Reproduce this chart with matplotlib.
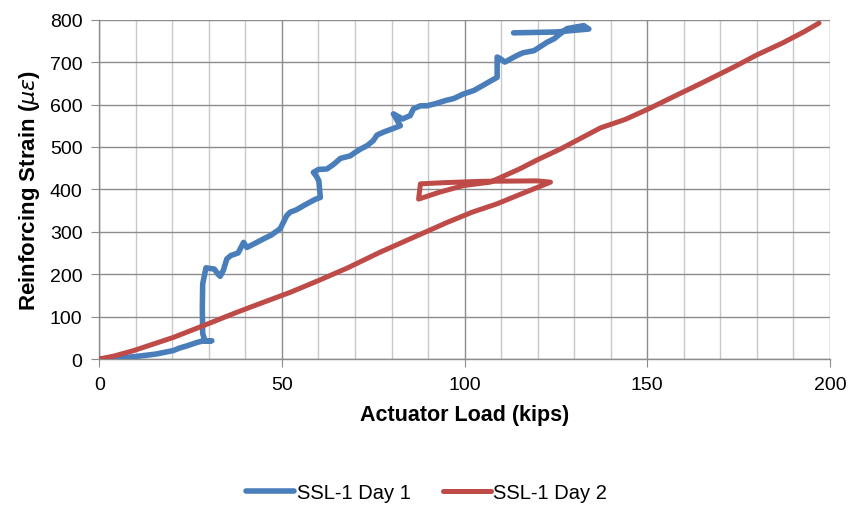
import numpy as np
import matplotlib.pyplot as plt
from matplotlib.ticker import MultipleLocator

plt.rcParams['font.family'] = ['Liberation Sans', 'DejaVu Sans']

# SSL-1 Day 1 (load in kips, strain in microstrain)
day1_load = [0, 3, 6.6, 10, 13, 15.7, 18, 20.3, 22, 24, 26.7, 28.5, 30.8, 29, 28.3,
             28.2, 28.3, 29.2, 31.5, 32.5, 33.1, 34, 34.9, 36, 38, 39.5, 40.4, 42,
             44.9, 47, 49.5, 51.3, 52.2, 54, 56, 57.7, 59, 60.5, 60.3, 60.1, 59.5,
             58.6, 60, 62.3, 64, 66, 68.7, 70, 71.5, 73.3, 75, 76, 77.8, 80, 82.4,
             80.5, 83, 85.1, 86, 87.9, 89.7, 92, 95, 97, 99.7, 102.5, 105, 107,
             108.9, 108.9, 109.8, 111, 114.4, 116, 119, 122.6, 124.5, 126.2, 128,
             130, 132.6, 134, 125, 113.4]
day1_strain = [0, 1, 3, 6, 9, 12, 16, 20, 26, 31, 39, 43, 43, 42, 60,
               120, 177, 215, 212, 200, 195, 210, 236, 244, 250, 275, 263, 270,
               283, 292, 307, 338, 346, 352, 362, 370, 376, 381, 400, 420, 430,
               440, 447, 448, 458, 473, 479, 487, 495, 503, 515, 528, 535, 542, 550,
               578, 566, 574, 590, 597, 597, 602, 610, 614, 625, 633, 645, 655,
               664, 712, 708, 700, 716, 722, 727, 747, 755, 767, 779,
               782, 786, 778, 771, 769]

# SSL-1 Day 2
day2_load = [0, 4, 9.3, 14, 20.3, 28, 37.6, 45, 52.2, 60, 68, 76.9, 85, 95.2,
             102, 108.9, 116, 123.5, 119.8, 105, 95, 87.9, 87.4, 93, 99.7, 107,
             115, 120, 126.2, 137.2, 144, 150.4, 158, 164.5, 173.6, 180, 187, 193,
             197]
day2_strain = [0, 7, 19.6, 33, 51, 77, 110, 134, 157, 185, 215, 252, 283, 322,
               346, 366, 391, 417, 420, 419, 416, 413, 377, 393, 409, 417,
               448, 470, 495, 545, 565, 590, 622, 649, 688, 717, 745, 772,
               792]

blue = '#4a7ebb'
red = '#be4b48'

fig = plt.figure(figsize=(8.53, 5.06), dpi=100)
ax = fig.add_axes([0.1164, 0.2885, 0.8566, 0.6706])

ax.plot(day1_load, day1_strain, color=blue, lw=4.0, solid_joinstyle='round',
        solid_capstyle='round', label='SSL-1 Day 1', zorder=3)
ax.plot(day2_load, day2_strain, color=red, lw=3.6, solid_joinstyle='round',
        solid_capstyle='round', label='SSL-1 Day 2', zorder=3)

ax.set_xlim(0, 200)
ax.set_ylim(0, 800)
ax.xaxis.set_major_locator(MultipleLocator(50))
ax.xaxis.set_minor_locator(MultipleLocator(10))
ax.yaxis.set_major_locator(MultipleLocator(100))

ax.grid(which='major', color='#8c8c8c', lw=1.0, zorder=0)
ax.grid(which='minor', axis='x', color='#c8c8c8', lw=1.0, zorder=0)
ax.set_axisbelow(True)

for s in ['top', 'right']:
    ax.spines[s].set_visible(False)
for s in ['left', 'bottom']:
    ax.spines[s].set_color('#8c8c8c')
    ax.spines[s].set_linewidth(1.0)

ax.tick_params(which='major', direction='out', length=6, color='#8c8c8c',
               labelsize=14, pad=6)
ax.tick_params(which='minor', length=0)

ax.set_xlabel('Actuator Load (kips)', fontsize=15.5, fontweight='bold', labelpad=8)
ax.set_ylabel(r'Reinforcing Strain ($\mu\varepsilon$)', fontsize=16,
              fontweight='bold', labelpad=6)

fig.legend(loc='lower center', bbox_to_anchor=(0.5, -0.03), ncol=2, frameon=False,
           fontsize=14.5, handlelength=2.4, columnspacing=1.6, handletextpad=0.1)

fig.savefig('out.png', dpi=100)
